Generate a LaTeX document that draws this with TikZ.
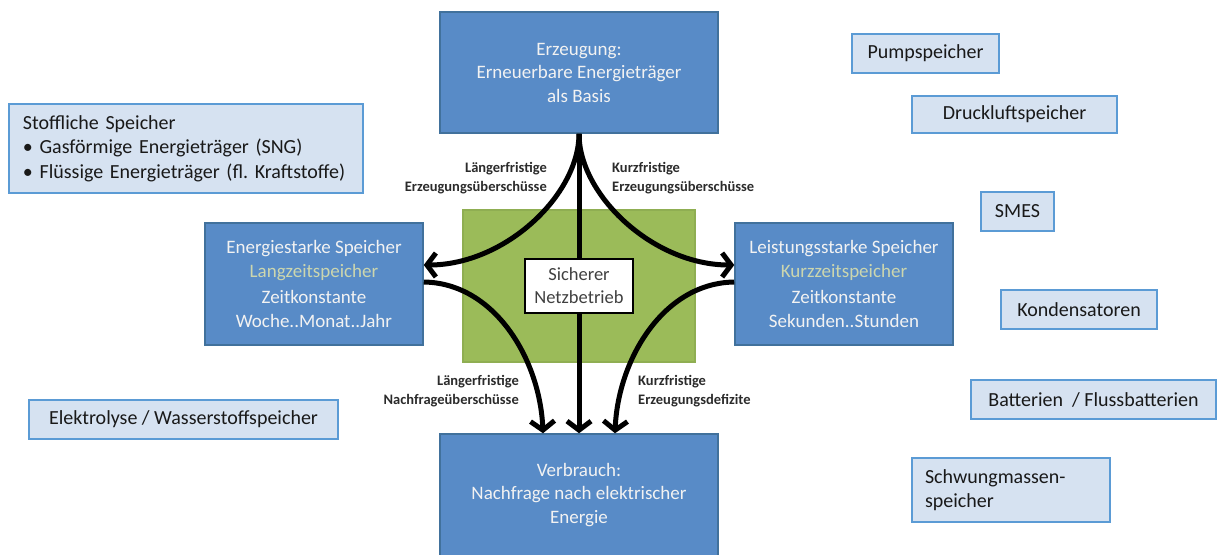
\documentclass[tikz,border=0pt]{standalone}
\usepackage{fontspec}
\setmainfont{Carlito}
\usetikzlibrary{arrows.meta}

\definecolor{mainblue}{HTML}{588BC7}
\definecolor{mainblueline}{HTML}{41719C}
\definecolor{paleblue}{HTML}{D6E2F1}
\definecolor{palebluel}{HTML}{5B9BD5}
\definecolor{netgreen}{HTML}{9BBB59}
\definecolor{netgreenline}{HTML}{8FAE52}
\definecolor{subtitle}{HTML}{CCD6AE}
\definecolor{boxtext}{HTML}{F2F2F2}
\definecolor{labeltext}{HTML}{2B2B2B}

\tikzset{
  flowbox/.style={draw=mainblueline, line width=1.5pt, fill=mainblue, text=boxtext,
    align=center, font=\fontsize{19}{23.5}\selectfont, inner sep=0pt},
  techbox/.style={draw=palebluel, line width=1.5pt, fill=paleblue, text=black!90,
    align=left, font=\fontsize{20}{24.5}\selectfont, inner sep=0pt},
  flowlabel/.style={text=labeltext, font=\bfseries\fontsize{14.5}{19}\selectfont, inner sep=0pt},
  flow/.style={line width=5pt, -{Straight Barb[length=9pt,width=24pt]}},
}

\begin{document}
\begin{tikzpicture}[x=1pt,y=-1pt]
\useasboundingbox (0,0) rectangle (1217,554);

% central grid-operation field
\node[draw=netgreenline, line width=1.5pt, fill=netgreen, minimum width=232pt, minimum height=152pt] (grid) at (579,286) {};

% generation, consumption and the two storage classes
\node[flowbox, minimum width=278pt, minimum height=121pt] (gen) at (579,72.5)
  {Erzeugung:\\Erneuerbare Energieträger\\als Basis};
\node[flowbox, minimum width=278pt, minimum height=122pt] (use) at (579,495)
  {Verbrauch:\\Nachfrage nach elektrischer\\Energie};
\node[flowbox, minimum width=218pt, minimum height=122pt] (long) at (314,284)
  {Energiestarke Speicher\\{\color{subtitle}Langzeitspeicher}\\[3pt]Zeitkonstante\\Woche..Monat..Jahr};
\node[flowbox, minimum width=218pt, minimum height=122pt] (short) at (844,284)
  {Leistungsstarke Speicher\\{\color{subtitle}Kurzzeitspeicher}\\[3pt]Zeitkonstante\\Sekunden..Stunden};

% energy flows
\draw[flow] (gen.south) -- (use.north);
\draw[flow] (gen.south) .. controls (579,195) and (505,265) .. ([yshift=19pt]long.east);
\draw[flow] (gen.south) .. controls (579,195) and (653,265) .. ([yshift=19pt]short.west);
\draw[flow] ([yshift=1pt]long.south east |- 0,283) .. controls (495,283) and (540,360) .. ([xshift=-36pt]use.north);
\draw[flow] ([yshift=1pt]short.south west |- 0,283) .. controls (663,283) and (618,360) .. ([xshift=36pt]use.north);

% secure grid operation
\node[draw=black, line width=1.2pt, fill=white, text=black!75, align=center,
  minimum width=108pt, minimum height=54pt, inner sep=0pt,
  font=\fontsize{18.5}{23}\selectfont] (safe) at (579,286) {Sicherer\\Netzbetrieb};

% flow labels
\node[flowlabel, align=right, anchor=east] (l1) at (547,178.5) {Längerfristige\\Erzeugungsüberschüsse};
\node[flowlabel, align=left, anchor=west] (l2) at (612,178.5) {Kurzfristige\\Erzeugungsüberschüsse};
\node[flowlabel, align=right, anchor=east] (l3) at (519,391) {Längerfristige\\Nachfrageüberschüsse};
\node[flowlabel, align=left, anchor=west] (l4) at (638,391) {Kurzfristige\\Erzeugungsdefizite};

% storage technologies
\node[techbox, minimum width=354pt, minimum height=89pt, text width=326pt] (stoff) at (186,148.5)
  {Stoffliche Speicher\\\textbullet\ Gasförmige Energieträger (SNG)\\\textbullet\ Flüssige Energieträger (fl.\ Kraftstoffe)};
\node[techbox, minimum width=309pt, minimum height=39pt] (elek) at (183.5,419.5) {Elektrolyse / Wasserstoffspeicher};
\node[techbox, minimum width=147pt, minimum height=39pt] (pump) at (925.5,53.5) {Pumpspeicher};
\node[techbox, minimum width=205pt, minimum height=37pt] (druck) at (1014.5,114.5) {Druckluftspeicher};
\node[techbox, minimum width=73pt, minimum height=39pt] (smes) at (1017.5,211.5) {SMES};
\node[techbox, minimum width=156pt, minimum height=39pt] (kond) at (1079,309.5) {Kondensatoren};
\node[techbox, minimum width=245pt, minimum height=39pt] (batt) at (1093.5,399.5) {Batterien \ / Flussbatterien};
\node[techbox, minimum width=198pt, minimum height=64pt, text width=172pt] (schw) at (1011,490)
  {Schwungmassen-\\speicher};
\end{tikzpicture}
\end{document}
